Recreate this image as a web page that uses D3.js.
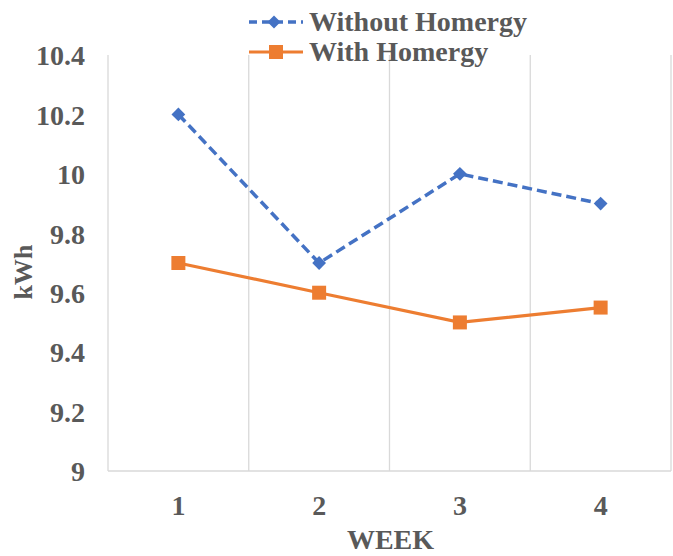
<!DOCTYPE html>
<html>
<head>
<meta charset="utf-8">
<script src="https://cdn.jsdelivr.net/npm/d3@7"></script>
<style>
  body { margin: 0; background: #fff; }
  text { font-family: "Liberation Serif", "Times New Roman", serif; font-weight: bold; fill: #595959; }
</style>
</head>
<body>
<svg id="chart" width="673" height="556"></svg>
<script>
const weeks = ["1", "2", "3", "4"];
const withoutHomergy = [10.2, 9.7, 10.0, 9.9];
const withHomergy = [9.7, 9.6, 9.5, 9.55];
const yTicks = [9, 9.2, 9.4, 9.6, 9.8, 10, 10.2, 10.4];
const yTickLabels = ["9", "9.2", "9.4", "9.6", "9.8", "10", "10.2", "10.4"];
const seriesNames = ["Without Homergy", "With Homergy"];

(function () {
const svg = d3.select("#chart");
const pLeft = 108, pRight = 671, pTop = 55, pBottom = 471;
const blue = "#4472C4", orange = "#ED7D31", grid = "#d9d9d9";

const x = d3.scaleBand().domain(weeks).range([pLeft, pRight]);
const y = d3.scaleLinear().domain([9, 10.4]).range([pBottom, pTop]);

// vertical gridlines at band boundaries
const bounds = weeks.map(w => x(w)).concat([x(weeks[weeks.length - 1]) + x.bandwidth()]);
svg.append("g").selectAll("line").data(bounds).join("line")
  .attr("x1", d => d).attr("x2", d => d)
  .attr("y1", pTop).attr("y2", pBottom)
  .attr("stroke", grid).attr("stroke-width", 1.3);

// bottom axis line
svg.append("line").attr("x1", pLeft).attr("x2", pRight).attr("y1", pBottom).attr("y2", pBottom)
  .attr("stroke", grid).attr("stroke-width", 1.3);

// y tick labels
const yAxis = d3.axisLeft(y).tickValues(yTicks).tickSize(0)
  .tickFormat((d, i) => yTickLabels[i]);
const gy = svg.append("g").attr("transform", `translate(${pLeft},0)`).call(yAxis);
gy.select(".domain").remove();
gy.selectAll("text").attr("x", 85 - pLeft).attr("dy", "0.35em")
  .style("font-size", "28px").style("font-family", "Liberation Serif").attr("fill", "#595959");

// x tick labels
const xAxis = d3.axisBottom(x).tickSize(0);
const gx = svg.append("g").attr("transform", `translate(0,${pBottom})`).call(xAxis);
gx.select(".domain").remove();
gx.selectAll("text").attr("y", 515 - pBottom).attr("dy", 0)
  .style("font-size", "28px").style("font-family", "Liberation Serif").attr("fill", "#595959");

// axis titles
svg.append("text").attr("x", (pLeft + pRight) / 2 + 1).attr("y", 549)
  .attr("text-anchor", "middle").style("font-size", "28px").text("WEEK");
svg.append("text").attr("transform", "translate(32,272) rotate(-90)")
  .attr("text-anchor", "middle").style("font-size", "26px").text("kWh");

const cx = d => x(d) + x.bandwidth() / 2;
const line = d3.line().x((d, i) => cx(weeks[i])).y(d => y(d));

// series lines
svg.append("path").datum(withHomergy).attr("d", line)
  .attr("fill", "none").attr("stroke", orange).attr("stroke-width", 3.2);
svg.append("path").datum(withoutHomergy).attr("d", line)
  .attr("fill", "none").attr("stroke", blue).attr("stroke-width", 3.5)
  .attr("stroke-dasharray", "10,5");

// markers
svg.append("g").selectAll("path").data(withoutHomergy).join("path")
  .attr("transform", (d, i) => `translate(${cx(weeks[i])},${y(d)}) rotate(45)`)
  .attr("d", d3.symbol().type(d3.symbolSquare).size(95)())
  .attr("fill", blue);
svg.append("g").selectAll("rect").data(withHomergy).join("rect")
  .attr("x", (d, i) => cx(weeks[i]) - 7).attr("y", d => y(d) - 7)
  .attr("width", 14).attr("height", 14).attr("fill", orange);

// legend
const lg = svg.append("g");
lg.append("line").attr("x1", 249).attr("x2", 303).attr("y1", 22).attr("y2", 22)
  .attr("stroke", blue).attr("stroke-width", 3.5).attr("stroke-dasharray", "8,5");
lg.append("path").attr("transform", "translate(274,22) rotate(45)")
  .attr("d", d3.symbol().type(d3.symbolSquare).size(85)()).attr("fill", blue);
lg.append("text").attr("x", 309).attr("y", 31).style("font-size", "28px").text(seriesNames[0]);
lg.append("line").attr("x1", 249).attr("x2", 303).attr("y1", 52).attr("y2", 52)
  .attr("stroke", orange).attr("stroke-width", 3.2);
lg.append("rect").attr("x", 269).attr("y", 45).attr("width", 14).attr("height", 14).attr("fill", orange);
lg.append("text").attr("x", 309).attr("y", 61).style("font-size", "28px").text(seriesNames[1]);
})();
</script>
</body>
</html>
